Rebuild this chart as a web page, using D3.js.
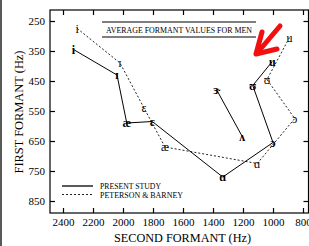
<!DOCTYPE html>
<html><head><meta charset="utf-8">
<script src="https://cdn.jsdelivr.net/npm/d3@7"></script>
<style>
html,body{margin:0;padding:0;background:#fff;}
svg{display:block;}
text{font-family:"Liberation Serif","Times New Roman",serif;fill:#000;}
</style></head>
<body>
<svg id="c" width="309" height="246"></svg>
<script>
// ---- data ----
const f2Ticks = [2400,2200,2000,1800,1600,1400,1200,1000,800];
const f1Ticks = [250,350,450,550,650,750,850];

const presentLabels = ["i","ɪ","æ","ɛ","ɑ","ɔ","ʊ","u"];
const presentF2 = [2330,2040,1975,1805,1335,1000,1135,1005];
const presentF1 = [345,430,590,585,770,655,465,385];

const presentExtraLabels = ["ɝ","ʌ"];
const presentExtraF2 = [1375,1205];
const presentExtraF1 = [480,635];

const pbLabels = ["i","ɪ","ɛ","æ","ɑ","ɔ","ʊ","u"];
const pbF2 = [2305,2020,1860,1720,1105,855,1040,890];
const pbF1 = [275,390,540,670,725,575,445,305];

const legendLabels = ["PRESENT STUDY","PETERSON & BARNEY"];
const titleText = "AVERAGE FORMANT VALUES FOR MEN";

// ---- layout ----
const svg = d3.select("#c");
const L = 50, R = 308.5, T = 10, B = 213;
const x = d3.scaleLinear().domain([2400,800]).range([63,303]);
const y = d3.scaleLinear().domain([250,850]).range([21,201]);

svg.append("line").attr("x1",1).attr("x2",1).attr("y1",0).attr("y2",246)
  .attr("stroke","#222").attr("stroke-width",1.5);

svg.append("rect").attr("x",L).attr("y",T).attr("width",R-L).attr("height",B-T)
  .attr("fill","none").attr("stroke","#000").attr("stroke-width",1.2);

function styleAxis(g){
  g.select(".domain").remove();
  g.selectAll(".tick line").attr("stroke","#000").attr("stroke-width",1.2);
  g.selectAll("text").style("font-family",'"Liberation Serif",serif').style("font-size","11px").attr("fill","#000");
}
svg.append("g").attr("transform",`translate(0,${B})`)
  .call(d3.axisBottom(x).tickValues(f2Ticks).tickSize(-5).tickPadding(5).tickFormat(d3.format("d")))
  .call(styleAxis);
svg.append("g").attr("transform",`translate(0,${T})`)
  .call(d3.axisTop(x).tickValues(f2Ticks).tickSize(-5).tickFormat(""))
  .call(styleAxis);
svg.append("g").attr("transform",`translate(${L},0)`)
  .call(d3.axisLeft(y).tickValues(f1Ticks).tickSize(-5).tickPadding(5).tickFormat(d3.format("d")))
  .call(styleAxis);
svg.append("g").attr("transform",`translate(${R},0)`)
  .call(d3.axisRight(y).tickValues(f1Ticks).tickSize(-5).tickFormat(""))
  .call(styleAxis);

svg.append("text").attr("x",182.5).attr("y",242).attr("text-anchor","middle")
  .attr("textLength",137).attr("lengthAdjust","spacingAndGlyphs")
  .style("font-size","12.5px").text("SECOND FORMANT (Hz)");
svg.append("text").attr("transform","translate(23,112) rotate(-90)").attr("text-anchor","middle")
  .attr("textLength",123).attr("lengthAdjust","spacingAndGlyphs")
  .style("font-size","12px").text("FIRST FORMANT (Hz)");

svg.append("line").attr("x1",102).attr("x2",256).attr("y1",22).attr("y2",22).attr("stroke","#000").attr("stroke-width",1.2);
svg.append("line").attr("x1",102).attr("x2",256).attr("y1",37).attr("y2",37).attr("stroke","#000").attr("stroke-width",1.2);
svg.append("text").attr("x",106).attr("y",33).attr("textLength",146).attr("lengthAdjust","spacingAndGlyphs")
  .style("font-size","8.5px").text(titleText);

const line = d3.line().x(d=>x(d[0])).y(d=>y(d[1]));
const present = presentF2.map((v,i)=>[v,presentF1[i],presentLabels[i]]);
const presentExtra = presentExtraF2.map((v,i)=>[v,presentExtraF1[i],presentExtraLabels[i]]);
const pb = pbF2.map((v,i)=>[v,pbF1[i],pbLabels[i]]);

svg.append("path").datum(pb).attr("d",line).attr("fill","none")
  .attr("stroke","#222").attr("stroke-width",1).attr("stroke-dasharray","2,2");
svg.append("path").datum(present).attr("d",line).attr("fill","none")
  .attr("stroke","#000").attr("stroke-width",1);
svg.append("path").datum(presentExtra).attr("d",line).attr("fill","none")
  .attr("stroke","#000").attr("stroke-width",1);

function labels(data, weight){
  svg.append("g").selectAll("text").data(data).join("text")
    .attr("x",d=>x(d[0])).attr("y",d=>y(d[1]))
    .attr("text-anchor","middle").attr("dominant-baseline","central")
    .style("font-size","12px").style("font-weight",weight)
    .text(d=>d[2]);
}
labels(pb,"normal");
labels(present,"bold");
labels(presentExtra,"bold");

svg.append("line").attr("x1",62).attr("x2",93).attr("y1",186).attr("y2",186).attr("stroke","#000").attr("stroke-width",1.3);
svg.append("line").attr("x1",62).attr("x2",93).attr("y1",194.5).attr("y2",194.5).attr("stroke","#222").attr("stroke-width",1).attr("stroke-dasharray","2,2");
svg.append("text").attr("x",100).attr("y",189).attr("textLength",61).attr("lengthAdjust","spacingAndGlyphs")
  .style("font-size","8.5px").text(legendLabels[0]);
svg.append("text").attr("x",100).attr("y",197.5).attr("textLength",83).attr("lengthAdjust","spacingAndGlyphs")
  .style("font-size","8.5px").text(legendLabels[1]);

const arrow = svg.append("g").attr("fill","none").attr("stroke","#f01010").attr("stroke-width",5)
  .attr("stroke-linecap","round").attr("stroke-linejoin","round");
arrow.append("path").attr("d","M280,26 L258,52");
arrow.append("path").attr("d","M262,32 L256,54 L277,49");
</script>
</body></html>
